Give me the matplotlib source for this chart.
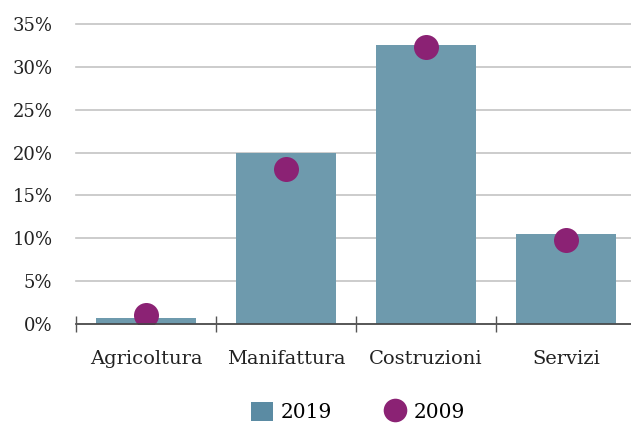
import matplotlib.pyplot as plt
from matplotlib.lines import Line2D
from matplotlib.patches import Patch

categories = ['Agricoltura', 'Manifattura', 'Costruzioni', 'Servizi']
val_2019 = [0.7, 20.0, 32.6, 10.5]
val_2009 = [1.1, 18.1, 32.3, 9.8]
yticks = [0, 5, 10, 15, 20, 25, 30, 35]

bar_color = '#6e9aad'
dot_color = '#8b2274'

plt.rcParams['font.family'] = ['DejaVu Serif']
plt.rcParams['font.size'] = 13

fig = plt.figure(figsize=(6.31, 4.25), dpi=100)
ax = fig.add_axes([76 / 631, 1 - 324 / 425, 560 / 631, 300 / 425])

x = range(len(categories))
ax.bar(x, val_2019, width=0.714, color=bar_color, zorder=2)
ax.scatter(x, val_2009, s=25 ** 2 * 0.5184, color=dot_color, zorder=3, linewidths=0)

ax.set_xlim(-0.5, 3.5)
ax.set_ylim(0, 35)
ax.set_yticks(yticks)
ax.set_yticklabels([f'{v}%' for v in yticks], color='#222222', fontsize=13)
ax.yaxis.grid(True, color='#c4c4c4', linewidth=1.2, zorder=0)
for gl in ax.get_ygridlines():
    gl.set_clip_on(False)
ax.tick_params(axis='y', length=0, pad=17)

ax.set_xticks(x)
ax.set_xticklabels(categories, color='#222222', fontsize=14)
ax.set_xticks([-0.5, 0.5, 1.5, 2.5, 3.5], minor=True)
ax.tick_params(axis='x', which='major', length=0, pad=19)
ax.tick_params(axis='x', which='minor', direction='inout', length=11, width=1, color='#555555')

for s in ['top', 'right', 'left']:
    ax.spines[s].set_visible(False)
ax.spines['bottom'].set_color('#444444')
ax.spines['bottom'].set_linewidth(1.2)
ax.spines['bottom'].set_zorder(4)

handles = [
    Patch(facecolor='#5b8ba3', edgecolor='none', label='2019'),
    Line2D([], [], marker='o', linestyle='none', markersize=17, markerfacecolor=dot_color,
           markeredgewidth=0, label='2009'),
]
fig.legend(handles=handles, loc='center', bbox_to_anchor=(358 / 631, 1 - 412 / 425), ncol=2,
           frameon=False, columnspacing=2.6, handlelength=1.1, handleheight=1.1, handletextpad=0.35,
           prop={'size': 14.5})

fig.savefig('out.png', dpi=100)
